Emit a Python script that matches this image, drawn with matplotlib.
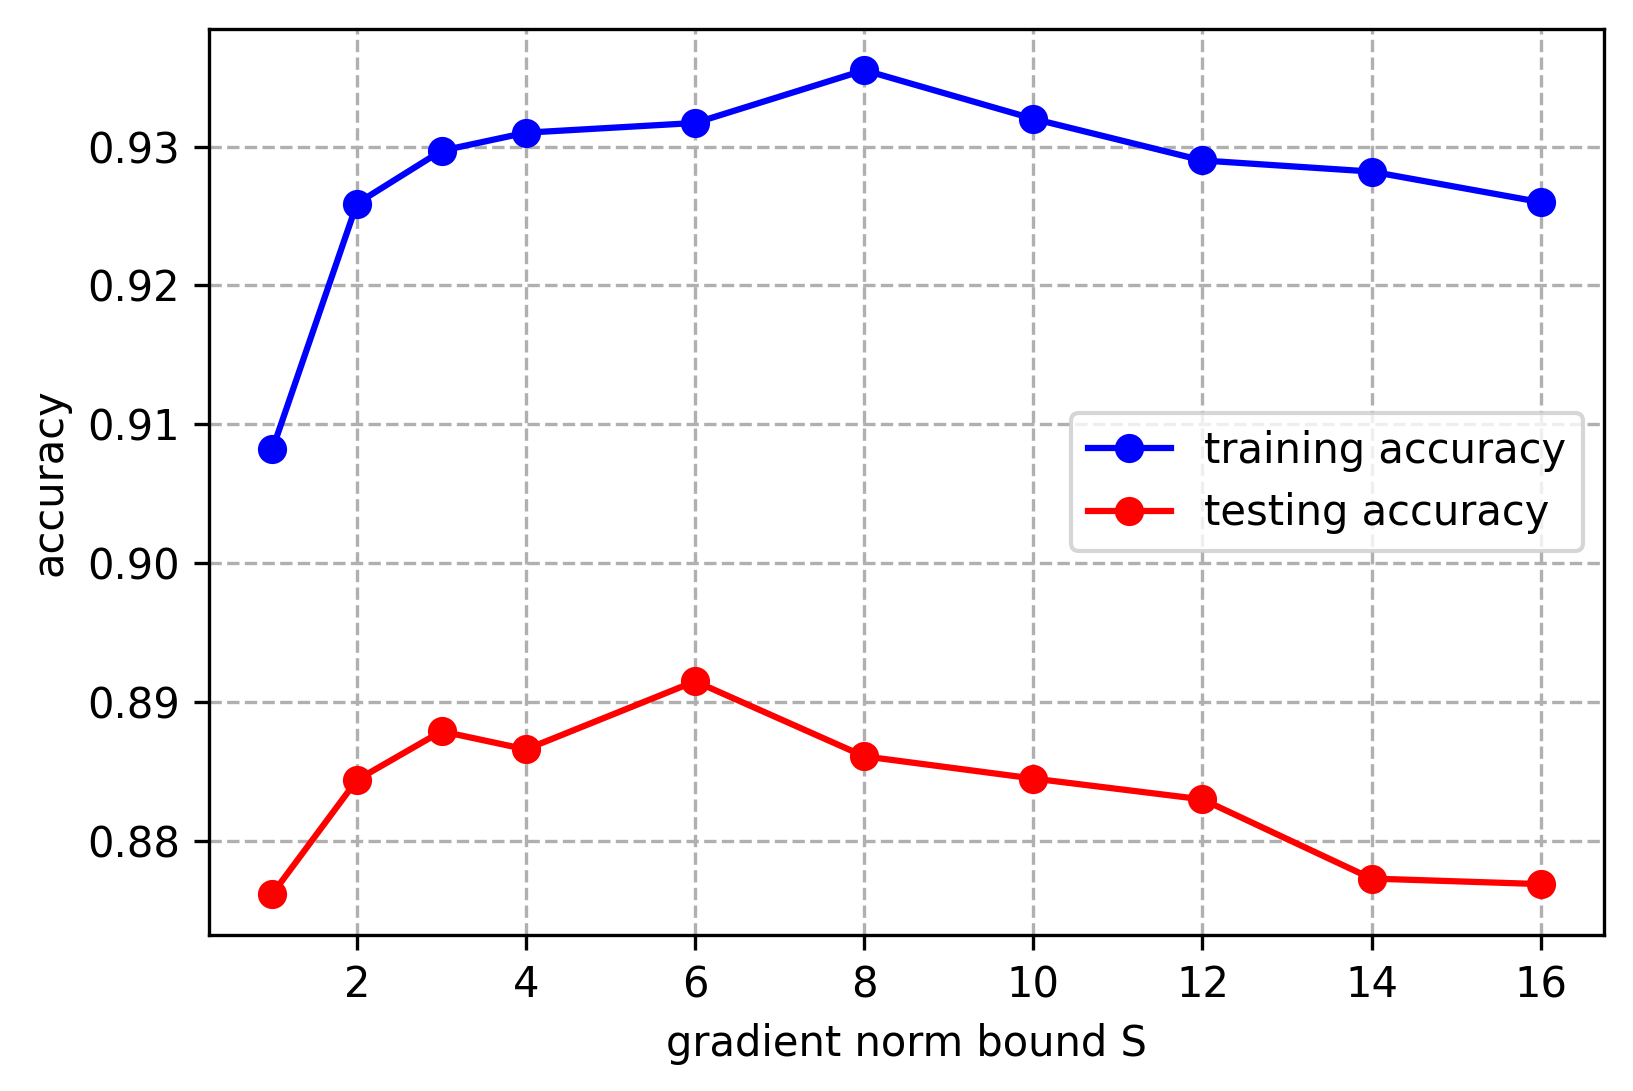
import matplotlib
matplotlib.use("Agg")
import matplotlib.pyplot as plt

S = [1, 2, 3, 4, 6, 8, 10, 12, 14, 16]
train_acc = [0.9082, 0.9259, 0.9297, 0.9310, 0.9317, 0.9355, 0.9320, 0.9290, 0.9282, 0.9260]
test_acc = [0.8762, 0.8844, 0.8879, 0.8866, 0.8915, 0.8861, 0.8845, 0.8830, 0.8773, 0.8769]
xticks = [2, 4, 6, 8, 10, 12, 14, 16]
yticks = [0.88, 0.89, 0.90, 0.91, 0.92, 0.93]

fig = plt.figure(figsize=(1633/300, 1091/300), dpi=300)
ax = fig.add_axes([209/1633, 1 - 935/1091, (1604-209)/1633, (935-29)/1091])
ax.plot(S, train_acc, 'o-', color='blue', label='training accuracy')
ax.plot(S, test_acc, 'o-', color='red', label='testing accuracy')
ax.set_xticks(xticks)
ax.set_yticks(yticks)
ax.set_yticklabels([f"{v:.2f}" for v in yticks])
ax.grid(True, linestyle='--', color='#b0b0b0')
ax.set_xlabel('gradient norm bound S')
ax.set_ylabel('accuracy')
ax.legend(loc='center right')
fig.savefig('out.png', dpi=300)
